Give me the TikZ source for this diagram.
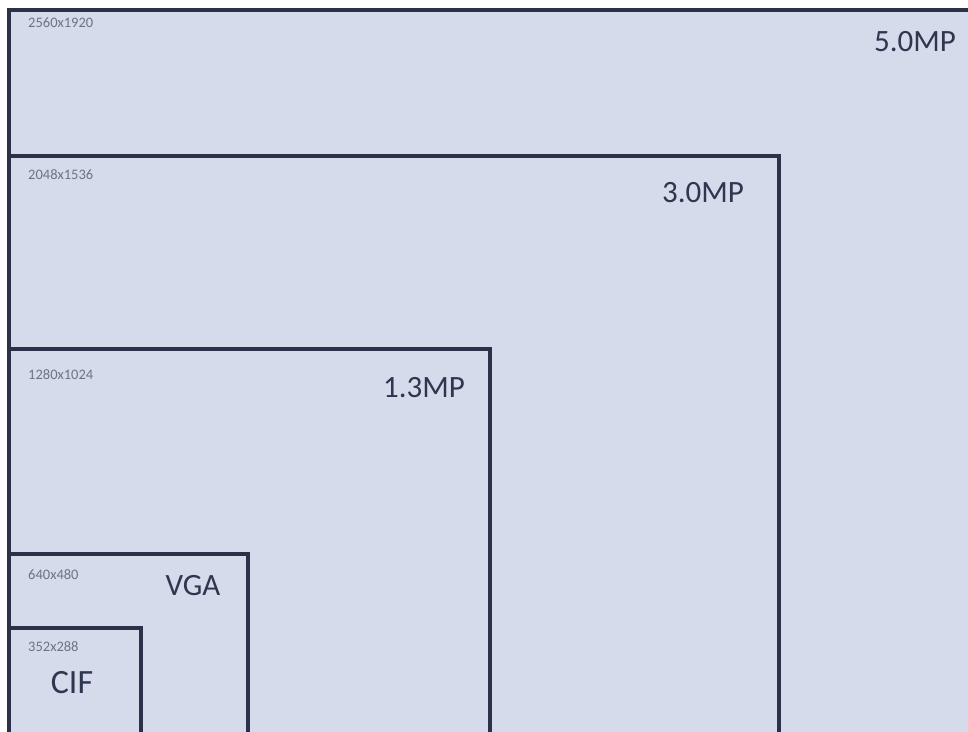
\documentclass[tikz,border=0pt]{standalone}
\usepackage{fontspec}
\setmainfont{Carlito}
\definecolor{boxfill}{HTML}{D6DBEB}
\definecolor{boxline}{HTML}{2A3148}
\definecolor{txt}{HTML}{2E3650}
\begin{document}
\begin{tikzpicture}[x=1pt,y=-1pt,
  frame/.style={draw=boxline,line width=3.2pt},
  big/.style={text=txt,font=\fontsize{31}{31}\selectfont,inner sep=0pt},
  small/.style={text=txt!70,font=\fontsize{14.5}{14.5}\selectfont,inner sep=0pt,anchor=west}]
\useasboundingbox (0,0) rectangle (968,731);
\clip (0,0) rectangle (968,731);
\fill[white] (0,0) rectangle (968,731);
\fill[boxfill] (9,10) rectangle (980,740);
\draw[frame] (980,10) -- (9,10) -- (9,740);
\draw[frame] (9,740) -- (9,156) -- (779,156) -- (779,740);
\draw[frame] (9,740) -- (9,349) -- (490,349) -- (490,740);
\draw[frame] (9,740) -- (9,554) -- (248,554) -- (248,740);
\draw[frame] (9,740) -- (9,628) -- (141,628) -- (141,740);
\node[small] (l5) at (28,23) {2560x1920};
\node[big] (t5) at (915,42) {5.0MP};
\node[small] (l3) at (28,175) {2048x1536};
\node[big] (t3) at (703,193) {3.0MP};
\node[small] (l13) at (28,375) {1280x1024};
\node[big] (t13) at (424,388) {1.3MP};
\node[small] (lv) at (28,575) {640x480};
\node[big] (tv) at (193,586) {VGA};
\node[small] (lc) at (28,647) {352x288};
\node[big,font=\fontsize{34}{34}\selectfont] (tc) at (72,683) {CIF};
\end{tikzpicture}
\end{document}
